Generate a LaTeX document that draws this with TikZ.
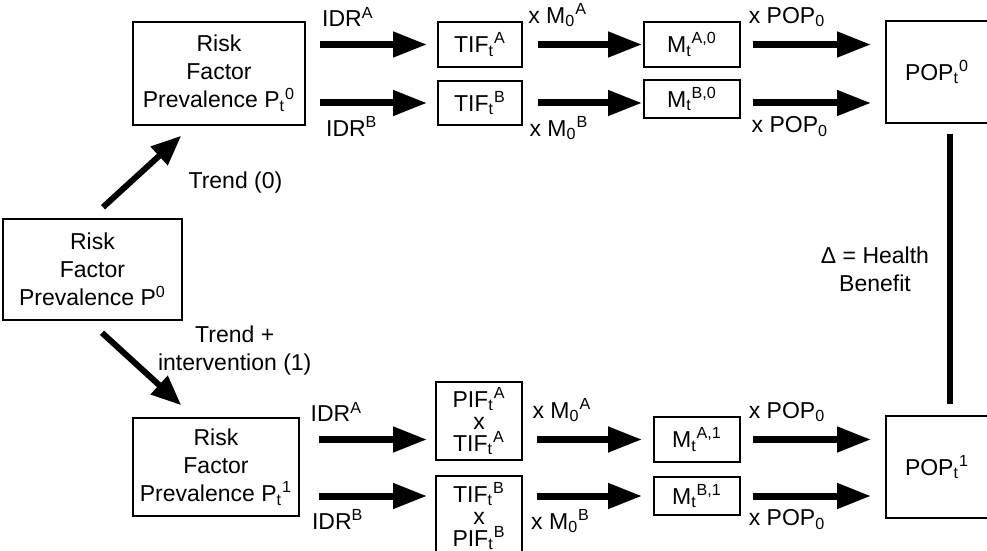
\documentclass[tikz,border=0pt]{standalone}
\usepackage{fontspec}
\setmainfont{Liberation Sans}
\usetikzlibrary{arrows.meta}
\newcommand\tsup[2]{\textsubscript{#1}\textsuperscript{#2}}

\begin{document}
\begin{tikzpicture}[x=.5pt, y=-.5pt,
  font=\fontsize{11.5pt}{14pt}\selectfont,
  box/.style={draw, line width=.8pt, align=center, inner sep=1pt},
  popbox/.style={box, align=left, inner xsep=9.5pt, text width=45pt, minimum height=51pt},
  flow/.style={line width=3.5pt, -{Triangle[length=17pt,width=12pt]}, shorten <=6pt, shorten >=5pt},
  slant/.style={line width=3pt, -{Triangle[length=15pt,width=12pt]}},
  lbl/.style={inner sep=1pt}]
  \useasboundingbox (0,0) rectangle (987,551);

  % prevalence boxes
  \node[box, minimum width=86pt, minimum height=51.5pt] (rf0) at (219,73.5) {Risk\\Factor\\Prevalence P\tsup{t}{0}};
  \node[box, minimum width=89.5pt, minimum height=50.5pt] (rf) at (92.5,269.5) {Risk\\Factor\\Prevalence P\textsuperscript{0}};
  \node[box, minimum width=83pt, minimum height=49pt] (rf1) at (216,467) {Risk\\Factor\\Prevalence P\tsup{t}{1}};

  % scenario 0
  \node[box, minimum width=42pt, minimum height=22.5pt] (tifa) at (480,44.5) {TIF\tsup{t}{A}};
  \node[box, minimum width=42pt, minimum height=22pt] (tifb) at (480,103) {TIF\tsup{t}{B}};
  \node[box, minimum width=48pt, minimum height=22.5pt] (ma0) at (692,44.5) {M\tsup{t}{A,0}};
  \node[box, minimum width=48pt, minimum height=19pt] (mb0) at (692,99) {M\tsup{t}{B,0}};
  \node[popbox] (pop0) at (950,72) {POP\tsup{t}{0}};

  % scenario 1
  \node[box, minimum width=43pt, minimum height=39pt] (pifa) at (479,421) {PIF\tsup{t}{A}\\[-3pt]x\\[-3pt]TIF\tsup{t}{A}};
  \node[box, minimum width=43pt, minimum height=40pt] (pifb) at (479,516) {TIF\tsup{t}{B}\\[-3pt]x\\[-3pt]PIF\tsup{t}{B}};
  \node[box, minimum width=43pt, minimum height=22.5pt] (ma1) at (697,439.5) {M\tsup{t}{A,1}};
  \node[box, minimum width=43pt, minimum height=19pt] (mb1) at (697,496) {M\tsup{t}{B,1}};
  \node[popbox] (pop1) at (950,467) {POP\tsup{t}{1}};

  \draw[slant] ([xshift=5.25pt,yshift=5.5pt]rf.north) -- node[lbl, pos=.34, right=27pt] {Trend (0)} ([xshift=24.5pt,yshift=-5pt]rf0.south west);
  \draw[slant] ([xshift=4.75pt,yshift=-6pt]rf.south) -- node[lbl, pos=.24, right=16pt, align=center] {Trend +\\intervention (1)} ([xshift=24.5pt,yshift=6pt]rf1.north west);

  \draw[flow, shorten <=7pt] (rf0.east |- tifa) -- node[lbl, pos=.32, above=6pt] {IDR\textsuperscript{A}} (tifa.west);
  \draw[flow, shorten <=7pt] (rf0.east |- tifb) -- node[lbl, pos=.35, below=4pt] {IDR\textsuperscript{B}} (tifb.west);
  \draw[flow, shorten <=7.5pt, shorten >=.5pt] (tifa.east) -- node[lbl, pos=.29, above=6pt] {x M\tsup{0}{A}} (ma0.west);
  \draw[flow, shorten <=7.5pt, shorten >=.5pt] (tifb.east) -- node[lbl, pos=.3, below=4pt] {x M\tsup{0}{B}} (tifb -| mb0.west);
  \draw[flow, shorten >=7pt] (ma0.east) -- node[lbl, pos=.32, above=6pt] {x POP\textsubscript{0}} (ma0 -| pop0.west);
  \draw[flow, shorten >=7pt] (mb0.east |- tifb) -- node[lbl, pos=.34, below=4pt] {x POP\textsubscript{0}} (tifb -| pop0.west);

  \draw[flow, shorten <=9.5pt, shorten >=4pt] (rf1.east |- ma1) -- node[lbl, pos=.27, above=6pt] {IDR\textsuperscript{A}} (pifa.west |- ma1);
  \draw[flow, shorten <=9.5pt, shorten >=4pt] (rf1.east |- mb1) -- node[lbl, pos=.28, below=4pt] {IDR\textsuperscript{B}} (pifb.west |- mb1);
  \draw[flow, shorten <=7pt, shorten >=5.5pt] (pifa.east |- ma1) -- node[lbl, pos=.3, above=6pt] {x M\tsup{0}{A}} (ma1.west);
  \draw[flow, shorten <=7pt, shorten >=5.5pt] (pifb.east |- mb1) -- node[lbl, pos=.29, below=4pt] {x M\tsup{0}{B}} (mb1.west);
  \draw[flow, shorten >=7pt] (ma1.east) -- node[lbl, pos=.32, above=6pt] {x POP\textsubscript{0}} (ma1 -| pop1.west);
  \draw[flow, shorten >=7pt] (mb1.east) -- node[lbl, pos=.32, below=4pt] {x POP\textsubscript{0}} (mb1 -| pop1.west);

  \draw[line width=3pt, shorten <=5pt, shorten >=5.5pt] (pop0) -- node[lbl, left=8pt, align=center] {Δ = Health\\Benefit} (pop1);
\end{tikzpicture}
\end{document}
